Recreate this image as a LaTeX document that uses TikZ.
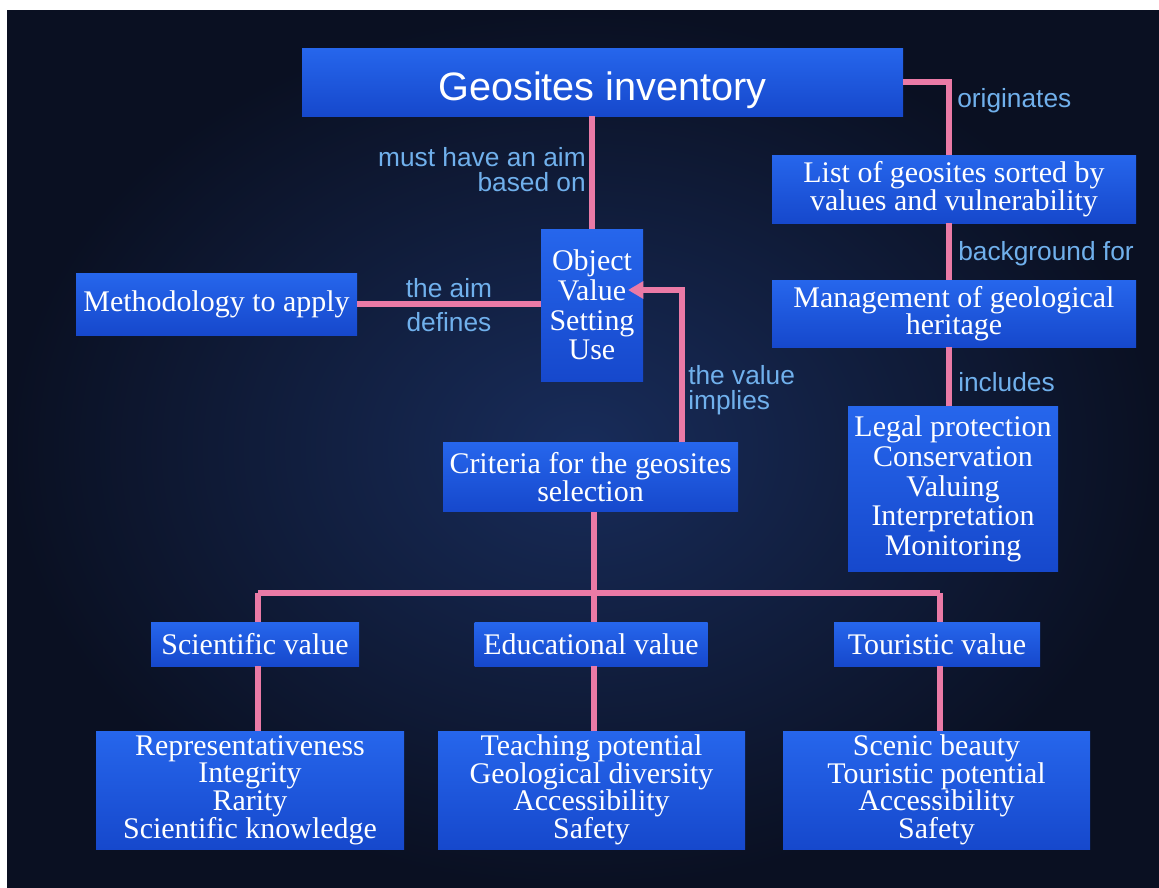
\documentclass[tikz,border=0pt]{standalone}
\usepackage{fontspec}
\setmainfont{Liberation Serif}
\setsansfont{Liberation Sans}
\usetikzlibrary{arrows.meta}
\newlength{\pxu}\setlength{\pxu}{0.025cm}
\definecolor{bgin}{RGB}{24,44,90}
\definecolor{bgout}{RGB}{10,16,34}
\definecolor{boxtop}{RGB}{38,102,236}
\definecolor{boxbot}{RGB}{22,72,204}
\definecolor{pinkl}{RGB}{234,122,166}
\definecolor{lbl}{RGB}{112,176,236}
\newcommand{\tightfont}[2]{\fontsize{#1}{#2}\selectfont\lineskiplimit=-40pt\lineskip=0pt}
\begin{document}
\begin{tikzpicture}[x=0.025cm,y=-0.025cm,
  box/.style={top color=boxtop,bottom color=boxbot,text=white,inner sep=0pt,
    align=center,font=\tightfont{21.3}{19.6}},
  tallbox/.style={box,font=\tightfont{21.3}{21.2}},
  listbox/.style={box,font=\tightfont{21.3}{19.6}},
  link/.style={draw=pinkl,line width=3.6pt},
  arr/.style={link,-{Triangle[length=11pt,width=12pt]}},
  lab/.style={text=lbl,font=\sffamily\tightfont{18.7}{17.9},inner sep=0pt}]
\useasboundingbox (0,0) rectangle (1159,888);
\fill[white] (0,0) rectangle (1159,888);
\shade[inner color=bgin,outer color=bgout] (7,10) rectangle (1159,888);

% coordinates for connectors
\coordinate (oc) at (949,82);
\coordinate (vx) at (682,290);
\coordinate (tip) at (628,290);
\coordinate (hub) at (594,593);
\coordinate (jl) at (258,593);
\coordinate (jr) at (940,593);

% nodes
\node[box,minimum width=601\pxu,minimum height=68\pxu,text height=27pt,text depth=0pt,font=\sffamily\fontsize{28.2}{30}\selectfont] (geo) at (602.5,82) {Geosites inventory};
\node[box,minimum width=364\pxu,minimum height=68\pxu] (list) at (954,189) {List of geosites sorted by\\values and vulnerability};
\node[box,minimum width=364\pxu,minimum height=67\pxu] (mgmt) at (954,313.5) {Management of geological\\heritage};
\node[tallbox,minimum width=210\pxu,minimum height=165\pxu] (legal) at (953,489) {Legal protection\\Conservation\\Valuing\\Interpretation\\Monitoring};
\node[box,minimum width=281\pxu,minimum height=62\pxu] (meth) at (216.5,304) {Methodology to apply};
\node[tallbox,minimum width=102\pxu,minimum height=152\pxu] (obj) at (592,305) {Object\\Value\\Setting\\Use};
\node[box,minimum width=295\pxu,minimum height=69\pxu] (crit) at (590.5,477) {Criteria for the geosites\\selection};
\node[box,minimum width=208\pxu,minimum height=44\pxu] (sci) at (255,644) {Scientific value};
\node[box,minimum width=233\pxu,minimum height=44\pxu] (edu) at (591,644) {Educational value};
\node[box,minimum width=206\pxu,minimum height=44\pxu] (tour) at (937,644) {Touristic value};
\node[listbox,minimum width=308\pxu,minimum height=118\pxu] (rep) at (250,790) {Representativeness\\Integrity\\Rarity\\Scientific knowledge};
\node[listbox,minimum width=307\pxu,minimum height=118\pxu] (teach) at (591.5,790) {Teaching potential\\Geological diversity\\Accessibility\\Safety};
\node[listbox,minimum width=307\pxu,minimum height=118\pxu] (scen) at (936.5,790) {Scenic beauty\\Touristic potential\\Accessibility\\Safety};

% connectors
\draw[link] (obj.north |- geo.south) -- (obj.north);
\draw[link] (meth.east) -- (meth.east -| obj.west);
\draw[link] (oc -| geo.east) -- (oc) -- (oc |- list.north);
\draw[link] (oc |- list.south) -- (oc |- mgmt.north);
\draw[link] (oc |- mgmt.south) -- (oc |- legal.north);
\draw[link] (hub |- crit.south) -- (hub);
\draw[link] (jl) -- (jr);
\draw[link] (jl) -- (jl |- sci.north);
\draw[link] (hub) -- (hub |- edu.north);
\draw[link] (jr) -- (jr |- tour.north);
\draw[link] (jl |- sci.south) -- (jl |- rep.north);
\draw[link] (hub |- edu.south) -- (hub |- teach.north);
\draw[link] (jr |- tour.south) -- (jr |- scen.north);
\draw[arr] (vx |- crit.north) -- (vx) -- (tip);

% labels
\node[lab,align=right,anchor=east] (l1) at (586,170) {must have an aim\\based on};
\node[lab] (l2) at (449,288) {the aim};
\node[lab] (l3) at (449,322) {defines};
\node[lab,align=left,anchor=west] (l4) at (688,390) {the value\\implies};
\node[lab,anchor=west] (l5) at (957,101) {originates};
\node[lab,anchor=west] (l6) at (958,254) {background for};
\node[lab,anchor=west] (l7) at (958,382) {includes};
\end{tikzpicture}
\end{document}
